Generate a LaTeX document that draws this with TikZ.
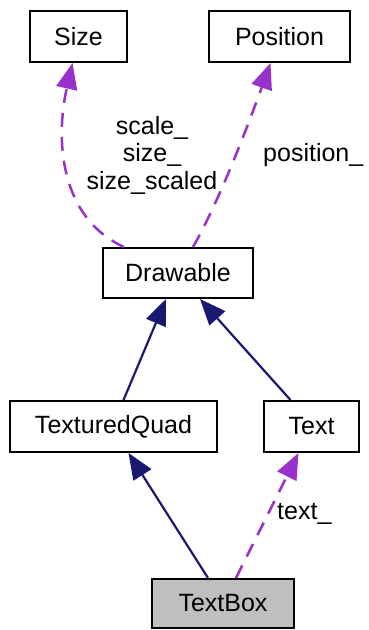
\documentclass[tikz,border=0pt]{standalone}
\usepackage{fontspec}
\setmainfont{Liberation Sans}
\usetikzlibrary{arrows.meta}
\definecolor{inherit}{RGB}{25,25,112}
\definecolor{usage}{RGB}{153,50,204}
\definecolor{focus}{RGB}{191,191,191}
\tikzset{
  every node/.style={font=\fontsize{25}{27.5}\selectfont},
  cls/.style={draw=black, line width=2pt, fill=white, inner sep=0pt, anchor=center},
  inh/.style={draw=inherit, line width=2.2pt,
    -{Triangle[length=26pt,width=21pt,fill=inherit]}},
  dep/.style={draw=usage, line width=2.5pt, dash pattern=on 14pt off 10pt,
    -{Triangle[length=26pt,width=21pt,fill=usage]}},
  lbl/.style={inner sep=0pt, align=center}
}
\begin{document}
\begin{tikzpicture}[x=1pt,y=-1pt]
  \useasboundingbox (0,0) rectangle (368,630);
  % classes
  \node[cls, minimum width=97pt,  minimum height=51pt] (size)     at (78.5,36.5)  {Size};
  \node[cls, minimum width=141pt, minimum height=51pt] (position) at (279.5,36.5) {Position};
  \node[cls, minimum width=150pt, minimum height=50pt] (drawable) at (178,273)    {Drawable};
  \node[cls, minimum width=207pt, minimum height=51pt] (tq)       at (113.5,426.5){TexturedQuad};
  \node[cls, minimum width=95pt,  minimum height=51pt] (text)     at (311.5,426.5){Text};
  \node[cls, fill=focus, minimum width=142pt, minimum height=49pt] (textbox) at (223,603.5) {TextBox};
  % member usage
  \draw[dep] ([xshift=22pt]drawable.north west) .. controls (60,218) and (55,140) .. ([xshift=-6pt]size.south);
  \draw[dep] ([xshift=15pt]drawable.north) .. controls (220,200) and (250,120) .. ([xshift=-9pt]position.south);
  \draw[dep] ([xshift=13pt]textbox.north) -- ([xshift=-13pt]text.south);
  % inheritance
  \draw[inh] ([xshift=10pt]tq.north) -- ([xshift=-12pt]drawable.south);
  \draw[inh] ([xshift=-21pt]text.north) -- ([xshift=22pt]drawable.south);
  \draw[inh] ([xshift=-15pt]textbox.north) -- ([xshift=15pt]tq.south);
  % labels
  \node[lbl] (lsize) at (152,155) {scale\_\\size\_\\size\_scaled};
  \node[lbl, anchor=west] (lpos) at (263,155) {position\_};
  \node[lbl, anchor=west] (ltext) at (277,514) {text\_};
\end{tikzpicture}
\end{document}
